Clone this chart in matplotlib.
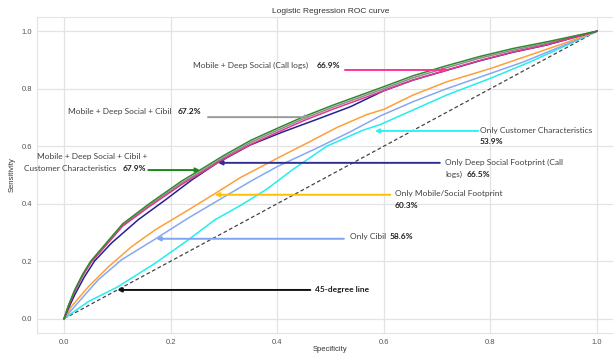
import matplotlib.pyplot as plt

# ROC points for each feature set (false positive rate / true positive rate)
fpr_all = [0, 0.008, 0.02, 0.035, 0.05, 0.08, 0.11, 0.16, 0.22, 0.255, 0.30, 0.35, 0.40, 0.45, 0.505, 0.56, 0.60, 0.655, 0.718, 0.78, 0.843, 0.906, 1.0]
tpr_all = [0, 0.045, 0.10, 0.155, 0.20, 0.265, 0.33, 0.40, 0.478, 0.517, 0.568, 0.62, 0.662, 0.703, 0.743, 0.78, 0.807, 0.845, 0.88, 0.912, 0.94, 0.963, 1.0]

fpr_cibil_mix = [0, 0.008, 0.02, 0.035, 0.05, 0.08, 0.11, 0.16, 0.22, 0.255, 0.30, 0.35, 0.40, 0.45, 0.505, 0.56, 0.60, 0.655, 0.718, 0.78, 0.843, 0.906, 1.0]
tpr_cibil_mix = [0, 0.043, 0.097, 0.151, 0.196, 0.26, 0.325, 0.394, 0.471, 0.51, 0.561, 0.613, 0.655, 0.696, 0.736, 0.773, 0.8, 0.838, 0.873, 0.906, 0.934, 0.958, 1.0]

fpr_mob_deep = [0, 0.008, 0.02, 0.035, 0.05, 0.08, 0.11, 0.16, 0.22, 0.255, 0.30, 0.35, 0.40, 0.45, 0.505, 0.56, 0.60, 0.655, 0.718, 0.78, 0.843, 0.906, 1.0]
tpr_mob_deep = [0, 0.042, 0.095, 0.149, 0.194, 0.258, 0.322, 0.39, 0.466, 0.505, 0.556, 0.606, 0.648, 0.689, 0.729, 0.766, 0.793, 0.83, 0.865, 0.898, 0.928, 0.953, 1.0]

fpr_deep = [0, 0.008, 0.02, 0.038, 0.057, 0.089, 0.139, 0.19, 0.24, 0.286, 0.349, 0.411, 0.474, 0.537, 0.60, 0.655, 0.718, 0.78, 0.843, 0.906, 1.0]
tpr_deep = [0, 0.035, 0.083, 0.145, 0.20, 0.263, 0.344, 0.413, 0.483, 0.54, 0.604, 0.65, 0.693, 0.737, 0.793, 0.83, 0.864, 0.897, 0.927, 0.952, 1.0]

fpr_mobile = [0, 0.014, 0.046, 0.083, 0.127, 0.171, 0.233, 0.283, 0.33, 0.40, 0.455, 0.512, 0.568, 0.60, 0.655, 0.718, 0.80, 0.874, 0.937, 1.0]
tpr_mobile = [0, 0.043, 0.112, 0.18, 0.251, 0.309, 0.378, 0.435, 0.49, 0.558, 0.61, 0.665, 0.71, 0.728, 0.778, 0.824, 0.87, 0.917, 0.957, 1.0]

fpr_cibil = [0, 0.02, 0.064, 0.108, 0.171, 0.233, 0.296, 0.352, 0.40, 0.474, 0.537, 0.593, 0.655, 0.718, 0.80, 0.862, 0.93, 1.0]
tpr_cibil = [0, 0.043, 0.135, 0.205, 0.277, 0.35, 0.419, 0.48, 0.529, 0.593, 0.65, 0.705, 0.755, 0.80, 0.853, 0.893, 0.945, 1.0]

fpr_cust = [0, 0.046, 0.10, 0.171, 0.233, 0.283, 0.333, 0.38, 0.43, 0.493, 0.56, 0.593, 0.655, 0.718, 0.80, 0.874, 0.943, 1.0]
tpr_cust = [0, 0.06, 0.11, 0.193, 0.274, 0.344, 0.396, 0.45, 0.52, 0.60, 0.655, 0.675, 0.726, 0.778, 0.836, 0.893, 0.951, 1.0]

# annotation arrows: tail (x, y), head (x, y), colour
arrows = [
    ((0.527, 0.865), (0.72, 0.865), "#ff3399"),
    ((0.270, 0.701), (0.462, 0.701), "#9a9a9a"),
    ((0.158, 0.517), (0.255, 0.517), "#1a8a1a"),
    ((0.777, 0.653), (0.583, 0.653), "#33f0f0"),
    ((0.705, 0.542), (0.289, 0.542), "#2e3192"),
    ((0.612, 0.431), (0.283, 0.431), "#ffc000"),
    ((0.525, 0.278), (0.173, 0.278), "#7fa4f0"),
    ((0.462, 0.10), (0.10, 0.10), "#111111"),
]

fig = plt.figure(figsize=(6.13, 3.57), dpi=100)
ax = fig.add_axes([0.061, 0.067, 0.9565, 0.886])
ax.set_facecolor("white")

ax.plot([0, 1], [0, 1], color="#444444", lw=0.9, linestyle=(0, (3, 2)))
ax.plot(fpr_cust, tpr_cust, color="#22eeee", lw=1.1)
ax.plot(fpr_cibil, tpr_cibil, color="#86a8f2", lw=1.1)
ax.plot(fpr_mobile, tpr_mobile, color="#ff9f3a", lw=1.1)
ax.plot(fpr_cibil_mix, tpr_cibil_mix, color="#8c8c8c", lw=1.1)
ax.plot(fpr_deep, tpr_deep, color="#23238c", lw=1.1)
ax.plot(fpr_mob_deep, tpr_mob_deep, color="#e8368f", lw=1.1)
ax.plot(fpr_all, tpr_all, color="#2e8b2e", lw=1.1)

ax.set_xlim(-0.05, 1.05)
ax.set_ylim(-0.05, 1.05)
ax.set_xticks([0, 0.2, 0.4, 0.6, 0.8, 1.0])
ax.set_yticks([0, 0.2, 0.4, 0.6, 0.8, 1.0])
ax.tick_params(labelsize=5.5, colors="#555555", length=0, pad=4)
for lab in ax.get_xticklabels() + ax.get_yticklabels():
    lab.set_family(["Liberation Sans", "DejaVu Sans"])
ax.grid(True, color="#e3e3e3", lw=0.9)
ax.set_axisbelow(True)
for s in ax.spines.values():
    s.set_color("#e3e3e3")

ax.set_title("Logistic Regression ROC curve", fontsize=6, color="#333333", pad=3,
             family=["Liberation Sans", "DejaVu Sans"])
ax.set_xlabel("Specificity", fontsize=5.5, color="#333333", labelpad=0.5,
              family=["Liberation Sans", "DejaVu Sans"])
ax.set_ylabel("Sensitivity", fontsize=5.5, color="#333333", labelpad=4,
              family=["Liberation Sans", "DejaVu Sans"])

# arrows from the labels to their curves
for tail, head, col in arrows:
    ax.annotate("", xy=head, xytext=tail,
                arrowprops=dict(arrowstyle="-|>", color=col, lw=1.4, mutation_scale=6,
                                shrinkA=0, shrinkB=0))

fnt = ["Lato", "DejaVu Sans"]
txt = dict(fontsize=6.0, color="#404040", family=fnt, va="center")
bold = dict(fontsize=6.0, color="#202020", family=fnt, va="center", fontweight="bold")

ax.text(0.242, 0.882, "Mobile + Deep Social (Call logs)", **txt)
ax.text(0.473, 0.882, "66.9%", **bold)

ax.text(0.008, 0.722, "Mobile + Deep Social + Cibil", **txt)
ax.text(0.214, 0.722, "67.2%", **bold)

ax.text(-0.050, 0.563, "Mobile + Deep Social + Cibil +", **txt)
ax.text(-0.075, 0.524, "Customer Characteristics", **txt)
ax.text(0.109, 0.524, "67.9%", **bold)

ax.text(0.78, 0.653, "Only Customer Characteristics", **txt)
ax.text(0.78, 0.615, "53.9%", **bold)

ax.text(0.715, 0.542, "Only Deep Social Footprint (Call", **txt)
ax.text(0.715, 0.503, "logs)", **txt)
ax.text(0.756, 0.503, "66.5%", **bold)

ax.text(0.621, 0.434, "Only Mobile/Social Footprint", **txt)
ax.text(0.621, 0.394, "60.3%", **bold)

ax.text(0.537, 0.285, "Only Cibil", **txt)
ax.text(0.610, 0.285, "58.6%", **bold)

ax.text(0.471, 0.10, "45-degree line", **bold)

fig.savefig("out.png", dpi=100)
